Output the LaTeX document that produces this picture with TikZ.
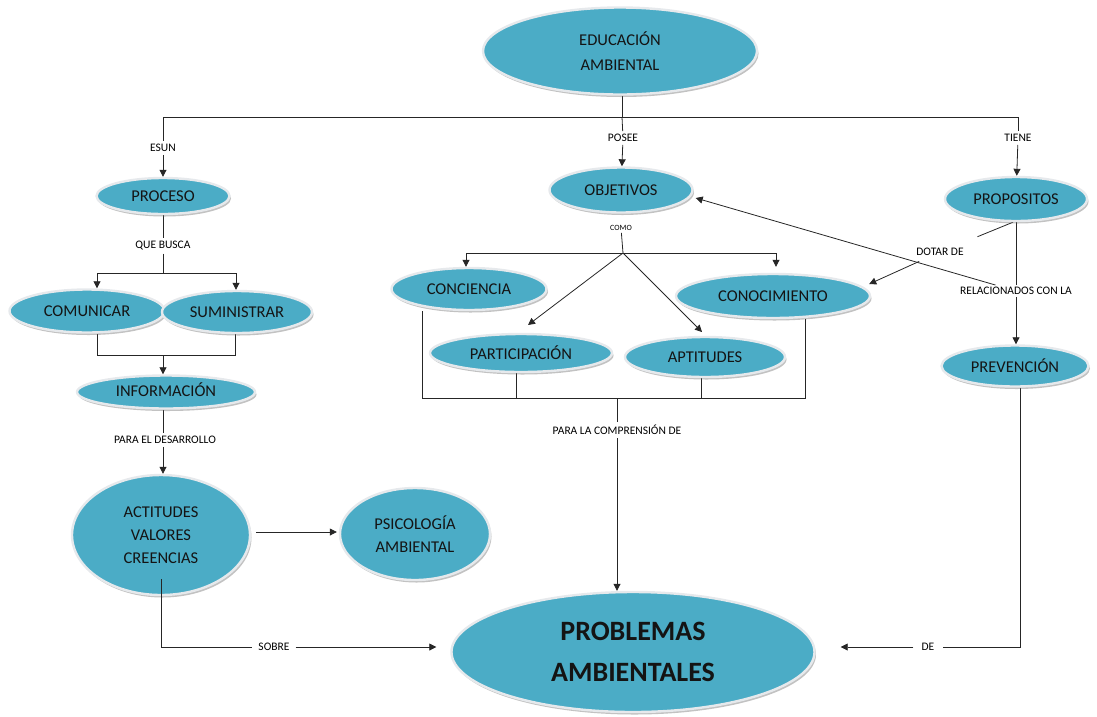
\documentclass[tikz,border=0pt]{standalone}
\usepackage{fontspec}
\setmainfont{Carlito}
\usetikzlibrary{shapes.geometric,arrows.meta,shadows,backgrounds}
\definecolor{ec}{HTML}{4BACC6}
\definecolor{rim}{HTML}{E6E9EC}
\tikzset{
  ell/.style={ellipse, fill=ec, draw=rim, line width=2.4pt, inner sep=0pt, align=center,
    text=black!92, font=\fontsize{16.5}{23}\selectfont,
    drop shadow={shadow xshift=1.5pt, shadow yshift=-2.5pt, opacity=0.4, fill=black!60}},
  lbl/.style={inner sep=3pt, font=\fontsize{11.5}{13}\selectfont, text=black},
  arr/.style={-{Triangle[length=7pt,width=7pt]}},
  conn/.style={line width=0.8pt, black!85}
}
\begin{document}
\begin{tikzpicture}[x=1pt,y=-1pt]
\useasboundingbox (0,0) rectangle (1097,716);
% nodes
\node[ell, minimum width=274pt, minimum height=87pt, font=\fontsize{16.5}{25}\selectfont] (ea) at (620,51) {EDUCACIÓN\\AMBIENTAL};
\node[ell, minimum width=133pt, minimum height=36pt] (proceso) at (163,196) {PROCESO};
\node[ell, minimum width=143pt, minimum height=45pt] (objetivos) at (621,190) {OBJETIVOS};
\node[ell, minimum width=142pt, minimum height=44pt] (propositos) at (1016,199) {PROPOSITOS};
\node[ell, minimum width=155pt, minimum height=43pt] (comunicar) at (87,311) {COMUNICAR};
\node[ell, minimum width=150pt, minimum height=42pt] (suministrar) at (237,312) {SUMINISTRAR};
\node[ell, minimum width=178pt, minimum height=33pt] (informacion) at (166,392) {\raisebox{-4pt}[0pt][0pt]{INFORMACIÓN}};
\node[ell, minimum width=155pt, minimum height=42pt] (conciencia) at (469,289) {CONCIENCIA};
\node[ell, minimum width=194pt, minimum height=44pt] (conocimiento) at (773,296) {CONOCIMIENTO};
\node[ell, minimum width=182pt, minimum height=38pt] (participacion) at (521,353) {PARTICIPACIÓN};
\node[ell, minimum width=160pt, minimum height=40pt] (aptitudes) at (705,357) {APTITUDES};
\node[ell, minimum width=147pt, minimum height=41pt] (prevencion) at (1015,366) {PREVENCIÓN};
\node[ell, minimum width=178pt, minimum height=120pt] (actitudes) at (161,535) {ACTITUDES\\VALORES\\CREENCIAS};
\node[ell, minimum width=150pt, minimum height=92pt] (psico) at (415,534) {PSICOLOGÍA\\AMBIENTAL};
\node[ell, minimum width=363pt, minimum height=120pt, font=\fontsize{28}{41}\bfseries\selectfont] (problemas) at (633,652) {PROBLEMAS\\AMBIENTALES};
% labels
\node[lbl] (esun) at (163,148) {ESUN};
\node[lbl] (posee) at (623,138) {POSEE};
\node[lbl] (tiene) at (1018,138) {TIENE};
\node[lbl] (quebusca) at (163,246) {QUE BUSCA};
\node[lbl, font=\fontsize{8}{9}\selectfont, inner sep=2pt] (como) at (621,228) {COMO};
\node[lbl] (dotar) at (940,252) {DOTAR DE};
\node[lbl, inner sep=2pt] (relac) at (1016,291) {RELACIONADOS CON LA};
\node[lbl] (paradesa) at (165,440) {PARA EL DESARROLLO};
\node[lbl] (paracomp) at (617,430) {PARA LA COMPRENSIÓN DE};
\node[lbl, inner sep=6pt] (sobre) at (274,647) {SOBRE};
\node[lbl, inner sep=8pt] (de) at (928,647) {DE};
% junctions
\coordinate (j0) at (622,117);
\coordinate (jl) at (163,117);
\coordinate (jr) at (1018,117);
\coordinate (qb) at (163,273);
\coordinate (jc) at (163,355);
\coordinate (jo) at (623,253);
\coordinate (jb) at (617,398);
\coordinate (ja) at (256,532);
\begin{scope}[on background layer]
\draw[conn] (ea.south -| j0) -- (j0);
\draw[conn] (jl) -- (jr);
\draw[conn] (jl) -- (esun);
\draw[conn, arr] (esun) -- (proceso);
\draw[conn] (j0) -- (posee);
\draw[conn, arr] (posee) -- (objetivos);
\draw[conn] (jr) -- (tiene);
\draw[conn, arr] (tiene) -- (propositos);
% proceso branch
\draw[conn] (proceso) -- (quebusca);
\draw[conn] (quebusca) -- (qb);
\draw[conn, arr] (qb) -| ([xshift=10pt]comunicar.north);
\draw[conn, arr] (qb) -| ([xshift=-1pt]suministrar.north);
\draw[conn] ([xshift=10pt]comunicar.south) |- (jc) -| ([xshift=-2pt]suministrar.south);
\draw[conn, arr] (jc) -- (jc |- informacion.north);
\draw[conn] (informacion.south -| jc) -- (paradesa.north -| jc);
\draw[conn, arr] (paradesa.south -| jc) -- (jc |- actitudes.north);
\draw[conn, arr] (ja) -- ([xshift=-2pt]psico.west |- ja);
\draw[conn, arr] (sobre.east) -- ([xshift=-14pt]problemas.west |- sobre);
\draw[conn] ([xshift=5pt]prevencion.south) |- (de.east);
\draw[conn, arr] (de.west) -- ([xshift=25pt]problemas.east |- de);
% objetivos branch
\draw[conn] (como) -- (jo);
\draw[conn, arr] (jo) -| ([xshift=-3pt]conciencia.north);
\draw[conn, arr] (jo) -| ([shift={(3pt,6pt)}]conocimiento.north);
\draw[conn, arr] (jo) -- ([shift={(7pt,28pt)}]participacion.center);
\draw[conn, arr] (jo) -- ([shift={(-3pt,25pt)}]aptitudes.center);
\draw[conn] ([xshift=-47pt]conciencia.south) |- (jb);
\draw[conn] ([xshift=-5pt]participacion.south) |- (jb);
\draw[conn] ([xshift=-4pt]aptitudes.south) |- (jb);
\draw[conn] ([xshift=32pt]conocimiento.south) |- (jb);
\draw[conn] (jb) -- (paracomp);
\draw[conn, arr] (paracomp) -- (paracomp |- problemas.north);
% propositos branch
\draw[conn] (propositos) -- (relac);
\draw[conn, arr] (relac) -- (relac |- prevencion.north);
\draw[conn, shorten >=22pt] ([xshift=-3pt]propositos.south) -- (dotar);
\draw[conn, arr, shorten <=6pt] (dotar) -- ([shift={(-2pt,12pt)}]conocimiento.east);
\draw[conn, arr] (relac) -- ([shift={(2pt,-8pt)}]objetivos.east);
\end{scope}
\draw[conn] ([yshift=17pt]actitudes.south) |- (sobre.west);
\end{tikzpicture}
\end{document}
